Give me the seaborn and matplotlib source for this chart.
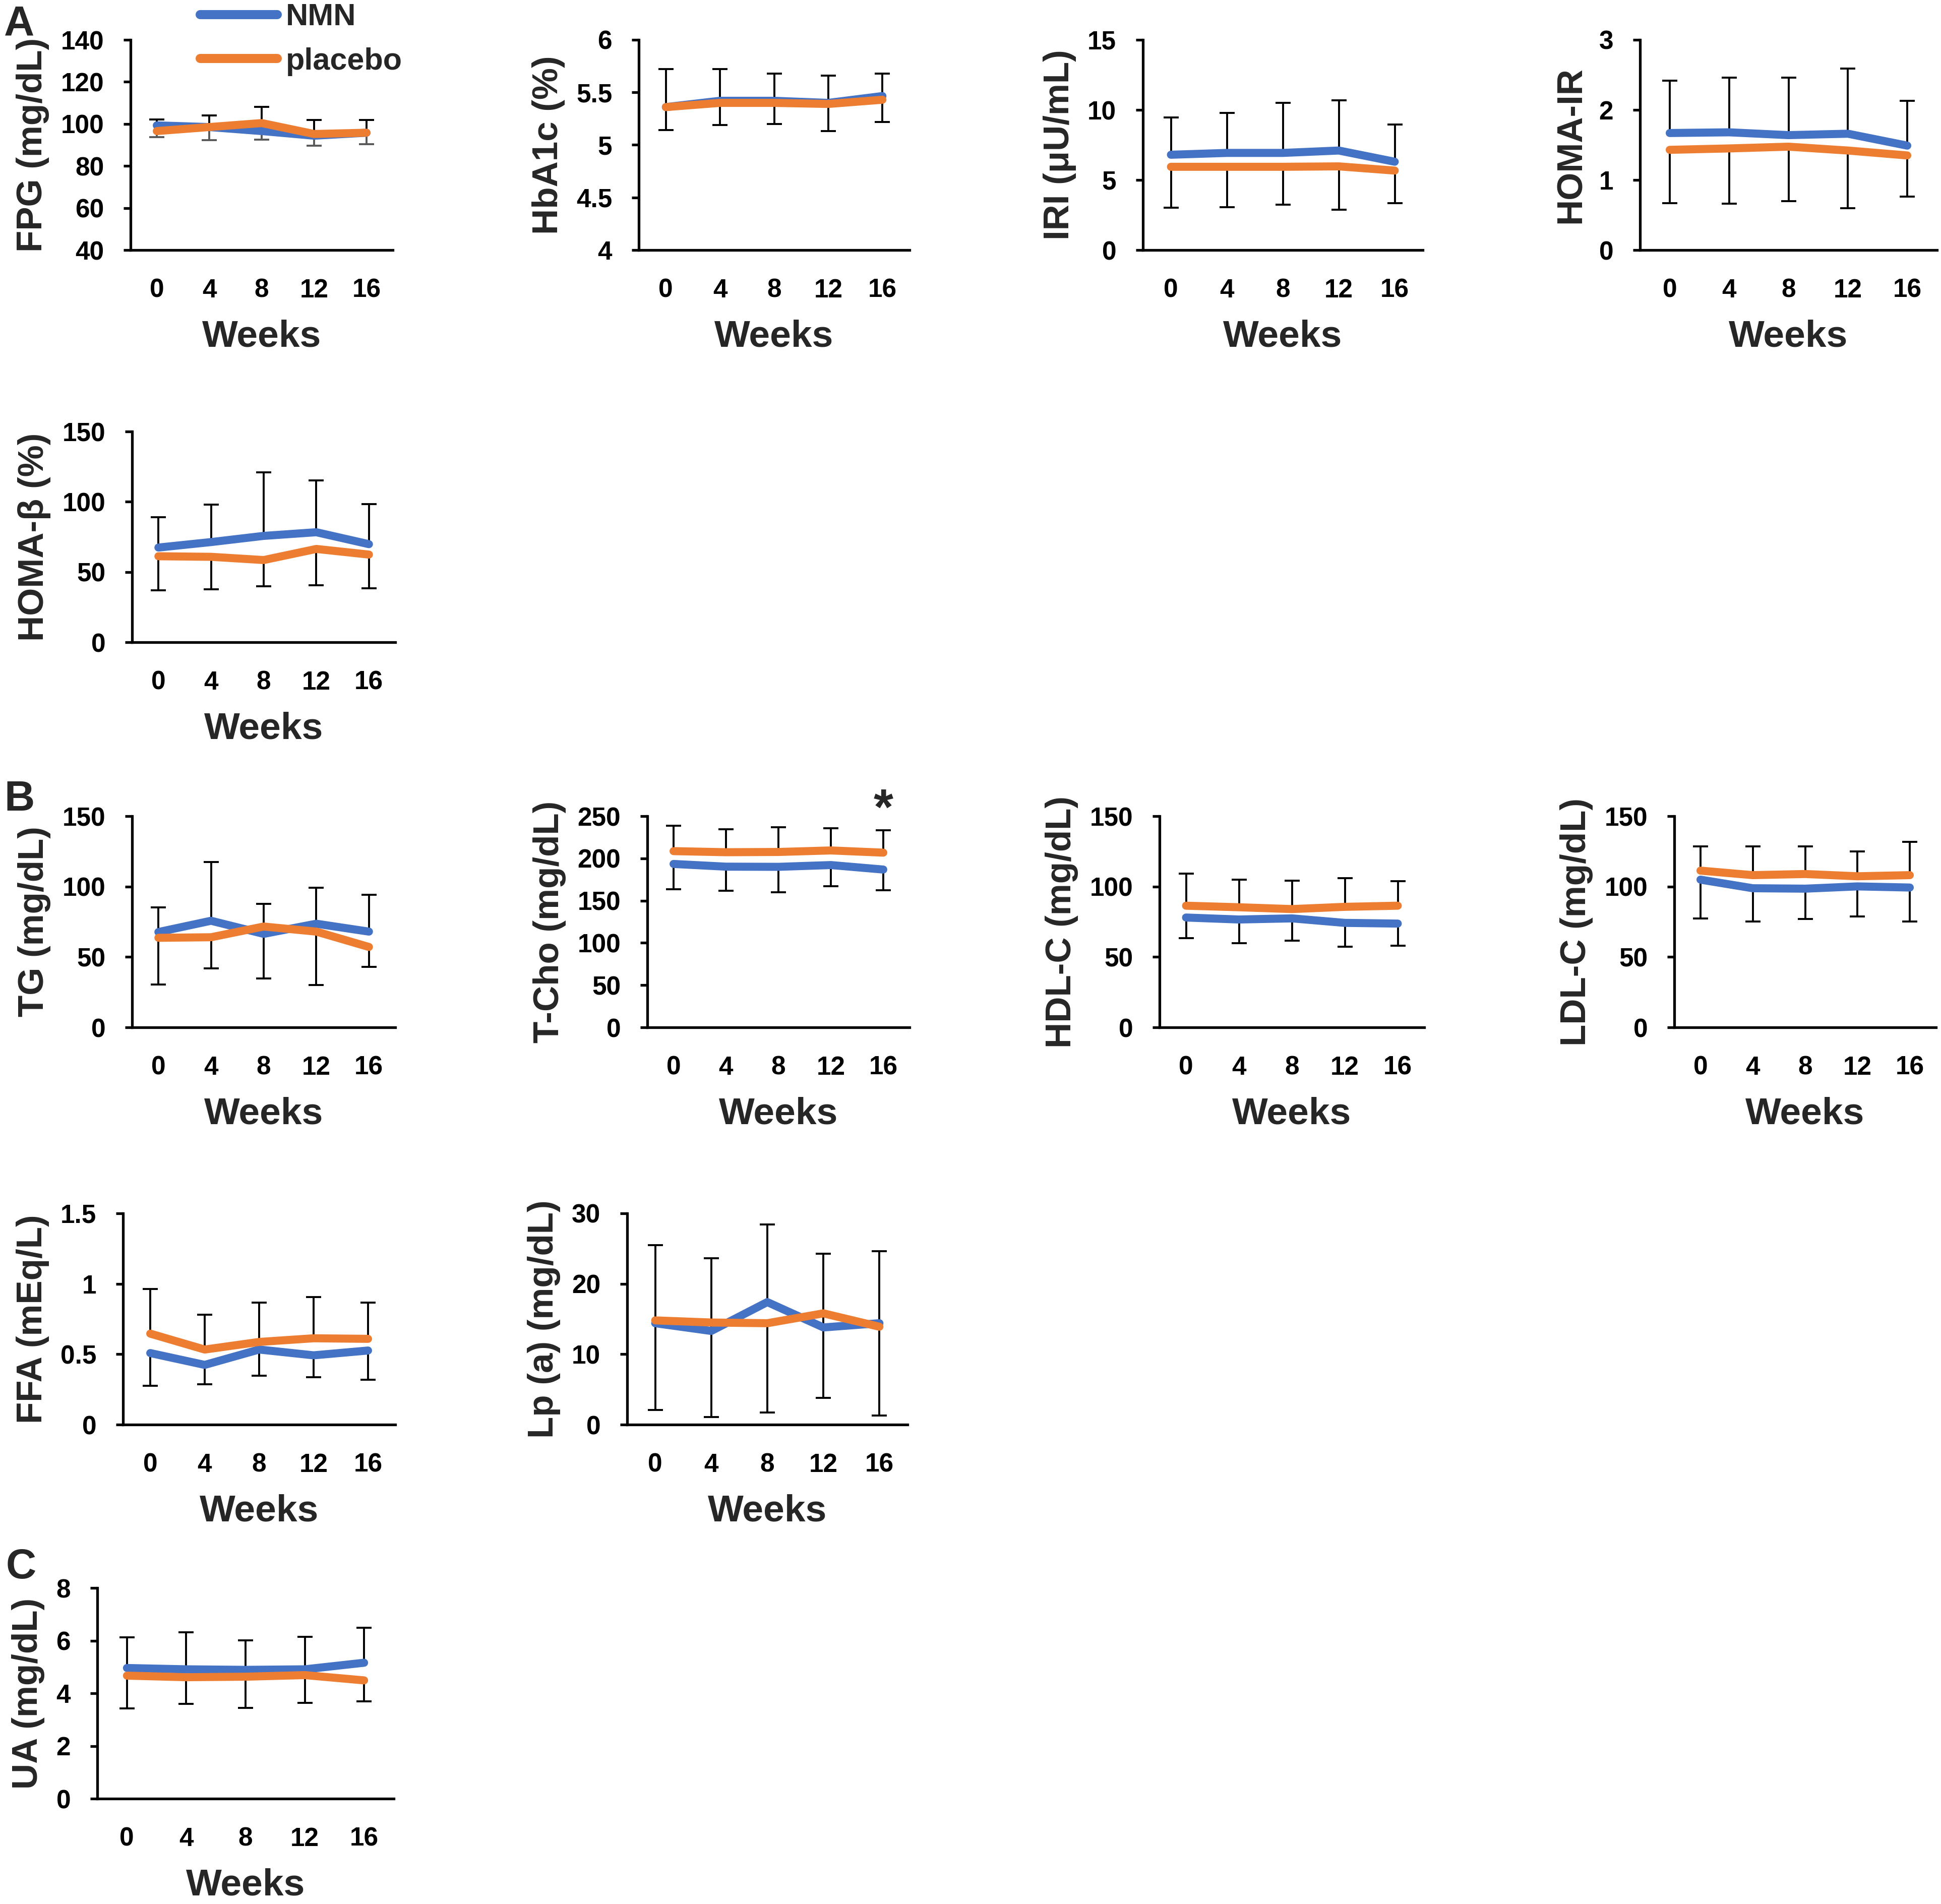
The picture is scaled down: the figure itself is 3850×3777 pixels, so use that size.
import numpy as np
import pandas as pd
import matplotlib
matplotlib.use("Agg")
import matplotlib.pyplot as plt
from matplotlib.lines import Line2D
from matplotlib.ticker import FuncFormatter
import seaborn as sns

# ---------------- data ----------------
weeks = [0, 4, 8, 12, 16]
groups = ["NMN", "placebo"]

fpg_nmn = [99.3, 98.5, 96.6, 94.4, 95.8]
fpg_pla = [96.6, 98.5, 100.4, 95.2, 95.8]
fpg_nmn_sd = [2.8, 5.6, 11.5, 7.4, 6.0]
fpg_pla_sd = [2.8, 6.3, 8.0, 5.5, 5.5]

hba1c_nmn = [5.36, 5.42, 5.42, 5.40, 5.465]
hba1c_pla = [5.36, 5.40, 5.40, 5.39, 5.43]
hba1c_nmn_sd = [0.36, 0.30, 0.26, 0.26, 0.215]
hba1c_pla_sd = [0.22, 0.21, 0.20, 0.26, 0.21]

iri_nmn = [6.8, 6.93, 6.93, 7.1, 6.3]
iri_pla = [5.94, 5.94, 5.94, 5.97, 5.67]
iri_nmn_sd = [2.65, 2.87, 3.57, 3.6, 2.66]
iri_pla_sd = [2.92, 2.88, 2.72, 3.08, 2.31]

homair_nmn = [1.67, 1.68, 1.64, 1.66, 1.49]
homair_pla = [1.43, 1.45, 1.475, 1.42, 1.35]
homair_nmn_sd = [0.75, 0.78, 0.82, 0.93, 0.64]
homair_pla_sd = [0.76, 0.79, 0.775, 0.82, 0.59]

homab_nmn = [67.4, 71.3, 75.7, 78.3, 69.8]
homab_pla = [61.2, 60.8, 58.5, 66.4, 62.4]
homab_nmn_sd = [21.7, 26.7, 45.2, 36.9, 28.5]
homab_pla_sd = [24.2, 23.1, 18.5, 26.0, 23.9]

tg_nmn = [67.7, 75.7, 66.4, 73.6, 68.0]
tg_pla = [63.6, 64.0, 71.6, 68.0, 57.1]
tg_nmn_sd = [17.5, 41.6, 21.3, 25.7, 26.1]
tg_pla_sd = [33.2, 22.1, 36.7, 38.1, 14.2]

tcho_nmn = [193.4, 190.2, 190.0, 192.1, 186.8]
tcho_pla = [208.6, 207.3, 207.6, 209.4, 206.8]
tcho_nmn_sd = [30.1, 28.8, 29.9, 25.3, 24.8]
tcho_pla_sd = [30.2, 27.0, 29.1, 26.2, 26.7]

hdl_nmn = [78.0, 76.6, 77.4, 74.2, 73.7]
hdl_pla = [86.4, 85.3, 84.0, 85.6, 86.4]
hdl_nmn_sd = [14.8, 16.9, 15.8, 16.9, 15.6]
hdl_pla_sd = [22.8, 19.6, 20.1, 20.5, 17.3]

ldl_nmn = [104.9, 98.8, 98.5, 100.1, 99.3]
ldl_pla = [111.3, 108.1, 108.9, 107.3, 108.1]
ldl_nmn_sd = [27.6, 23.6, 21.7, 21.2, 24.1]
ldl_pla_sd = [17.2, 20.4, 19.6, 17.6, 23.7]

ffa_nmn = [0.508, 0.424, 0.533, 0.492, 0.526]
ffa_pla = [0.646, 0.533, 0.587, 0.613, 0.609]
ffa_nmn_sd = [0.231, 0.136, 0.187, 0.156, 0.209]
ffa_pla_sd = [0.318, 0.248, 0.279, 0.293, 0.257]

lpa_nmn = [14.4, 13.3, 17.4, 13.8, 14.4]
lpa_pla = [14.8, 14.5, 14.4, 15.8, 13.9]
lpa_nmn_sd = [11.1, 10.3, 11.0, 10.5, 10.2]
lpa_pla_sd = [12.75, 13.4, 12.7, 12.0, 12.6]

ua_nmn = [4.96, 4.91, 4.89, 4.91, 5.16]
ua_pla = [4.67, 4.61, 4.63, 4.69, 4.49]
ua_nmn_sd = [1.16, 1.41, 1.12, 1.23, 1.33]
ua_pla_sd = [1.25, 1.01, 1.19, 1.05, 0.79]

# ---------------- panels ----------------
# (ylabel, nmn, pla, nmn_sd, pla_sd, group with upward bars, yticks)
panels = [
    ("FPG (mg/dL)", fpg_nmn, fpg_pla, fpg_nmn_sd, fpg_pla_sd, "NMN", [40, 60, 80, 100, 120, 140]),
    ("HbA1c (%)", hba1c_nmn, hba1c_pla, hba1c_nmn_sd, hba1c_pla_sd, "NMN", [4, 4.5, 5, 5.5, 6]),
    ("IRI (μU/mL)", iri_nmn, iri_pla, iri_nmn_sd, iri_pla_sd, "NMN", [0, 5, 10, 15]),
    ("HOMA-IR", homair_nmn, homair_pla, homair_nmn_sd, homair_pla_sd, "NMN", [0, 1, 2, 3]),
    ("HOMA-β (%)", homab_nmn, homab_pla, homab_nmn_sd, homab_pla_sd, "NMN", [0, 50, 100, 150]),
    ("TG (mg/dL)", tg_nmn, tg_pla, tg_nmn_sd, tg_pla_sd, "NMN", [0, 50, 100, 150]),
    ("T-Cho (mg/dL)", tcho_nmn, tcho_pla, tcho_nmn_sd, tcho_pla_sd, "placebo", [0, 50, 100, 150, 200, 250]),
    ("HDL-C (mg/dL)", hdl_nmn, hdl_pla, hdl_nmn_sd, hdl_pla_sd, "placebo", [0, 50, 100, 150]),
    ("LDL-C (mg/dL)", ldl_nmn, ldl_pla, ldl_nmn_sd, ldl_pla_sd, "placebo", [0, 50, 100, 150]),
    ("FFA (mEq/L)", ffa_nmn, ffa_pla, ffa_nmn_sd, ffa_pla_sd, "placebo", [0, 0.5, 1, 1.5]),
    ("Lp (a) (mg/dL)", lpa_nmn, lpa_pla, lpa_nmn_sd, lpa_pla_sd, "NMN", [0, 10, 20, 30]),
    ("UA (mg/dL)", ua_nmn, ua_pla, ua_nmn_sd, ua_pla_sd, "NMN", [0, 2, 4, 6, 8]),
]

# pixel layout: (left, right, row index); rows are (top, bottom)
rows = [(79, 496), (856, 1274), (1619, 2038), (2407, 2826), (3150, 3568)]
layout = [
    (259, 779, 0), (1267, 1804, 0), (2267, 2822, 0), (3253, 3842, 0),
    (262, 784, 1),
    (262, 784, 2), (1284, 1804, 2), (2300, 2825, 2), (3321, 3840, 2),
    (244, 784, 3), (1244, 1800, 3),
    (193, 781, 4),
]

BLUE = "#4472C4"
ORANGE = "#ED7D31"
palette = {"NMN": BLUE, "placebo": ORANGE}

sns.set_style("white")
plt.rcParams["font.family"] = ["Liberation Sans", "DejaVu Sans"]
plt.rcParams["font.weight"] = "bold"
plt.rcParams["axes.labelweight"] = "bold"

W, H = 3850, 3777
fig = plt.figure(figsize=(W / 100, H / 100), dpi=100)
fig.patch.set_facecolor("white")

fmt = FuncFormatter(lambda v, p: f"{v:g}")


def one_sided_bars(ax, x, mean, sd, upward, color):
    zeros = np.zeros(len(x))
    yerr = [zeros, sd] if upward else [sd, zeros]
    _, caps, _ = ax.errorbar(x, mean, yerr=yerr, fmt="none", ecolor=color,
                             elinewidth=2.8, capsize=11, capthick=2.8, zorder=2)
    # hide the caps that sit on the mean itself
    for c in caps:
        if np.allclose(c.get_ydata(), mean):
            c.set_visible(False)


axes = []
for idx, (panel, lay) in enumerate(zip(panels, layout)):
    ylabel, nmn, pla, nmn_sd, pla_sd, up_group, yticks = panel
    l, r, ri = lay
    t, b = rows[ri]
    ax = fig.add_axes([l / W, 1 - b / H, (r - l) / W, (b - t) / H])
    axes.append(ax)

    means = {"NMN": np.array(nmn), "placebo": np.array(pla)}
    sds = {"NMN": np.array(nmn_sd), "placebo": np.array(pla_sd)}
    down_group = "placebo" if up_group == "NMN" else "NMN"
    low_color = "#595959" if idx == 0 else "black"

    one_sided_bars(ax, weeks, means[up_group], sds[up_group], True, "black")
    one_sided_bars(ax, weeks, means[down_group], sds[down_group], False, low_color)

    df = pd.DataFrame({
        "week": weeks * 2,
        "value": list(nmn) + list(pla),
        "group": ["NMN"] * len(weeks) + ["placebo"] * len(weeks),
    })
    sns.lineplot(data=df, x="week", y="value", hue="group", hue_order=groups,
                 palette=palette, linewidth=11.5, legend=False, ax=ax, zorder=3,
                 errorbar=None, solid_capstyle="round", solid_joinstyle="round")

    ax.set_xlim(-2, 18)
    ax.set_xticks(weeks)
    ax.set_xticklabels([str(w) for w in weeks])
    ax.set_ylim(yticks[0], yticks[-1])
    ax.set_yticks(yticks)
    ax.yaxis.set_major_formatter(fmt)
    for s in ["top", "right"]:
        ax.spines[s].set_visible(False)
    for s in ["left", "bottom"]:
        ax.spines[s].set_linewidth(3.8)
        ax.spines[s].set_color("black")
    ax.tick_params(axis="y", direction="out", length=10, width=3.8, pad=28,
                   labelsize=37, colors="black", left=True)
    ax.tick_params(axis="x", length=0, pad=40, labelsize=37, colors="black")
    for lab in ax.get_xticklabels() + ax.get_yticklabels():
        lab.set_fontweight("bold")
    ax.set_xlabel("Weeks", fontsize=54, fontweight="bold", labelpad=24)
    ax.set_ylabel(ylabel, fontsize=51, fontweight="bold", labelpad=16)
    ax.set_facecolor("white")

# significance mark on T-Cho at week 16
axes[6].text(16, 0.962, "*", transform=axes[6].get_xaxis_transform(),
             ha="center", va="baseline", fontsize=72, fontweight="bold")

# legend
handles = [Line2D([0], [0], color=palette[g], lw=13, solid_capstyle="round") for g in groups]
axes[0].legend(handles, groups, loc="upper left", bbox_to_anchor=(397 / W, 1 - 6 / H),
               bbox_transform=fig.transFigure, frameon=False,
               handlelength=2.5, handletextpad=0.28, labelspacing=0.5,
               borderpad=0, borderaxespad=0, prop={"weight": "bold", "size": 44})

# panel letters
fig.text(8 / W, 1 - 70 / H, "A", fontsize=60, fontweight="bold", va="baseline", ha="left")
fig.text(8 / W, 1 - 1608 / H, "B", fontsize=60, fontweight="bold", va="baseline", ha="left")
fig.text(12 / W, 1 - 3131 / H, "C", fontsize=60, fontweight="bold", va="baseline", ha="left")

fig.savefig("out.png", dpi=100, facecolor="white")
